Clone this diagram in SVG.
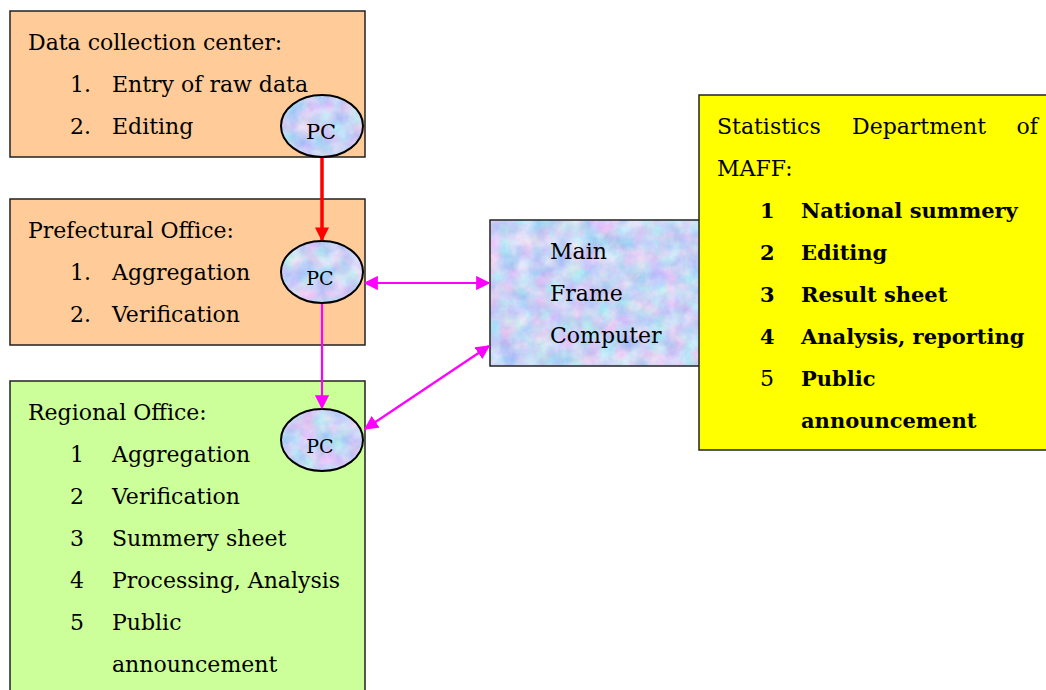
<svg xmlns="http://www.w3.org/2000/svg" width="1046" height="690" viewBox="0 0 1046 690">
  <style>
    .box { stroke: #222; stroke-width: 1.5; }
    .orange { fill: #FFCC99; }
    .green { fill: #CCFF99; }
    .yellow { fill: #FFFF00; }
    .t { font-family: "DejaVu Serif", "Liberation Serif", serif; font-size: 22px; fill: #000; }
    .b { font-weight: bold; font-size: 21px; }
    .pc { font-family: "DejaVu Serif", "Liberation Serif", serif; font-size: 19px; fill: #000; text-anchor: middle; }
    .pcshape { stroke: #000; stroke-width: 2; }
    .red { stroke: #FF0000; stroke-width: 3.5; fill: none; }
    .mag { stroke: #FF00FF; stroke-width: 2.2; fill: none; }
  </style>
  <defs>
    <!-- pastel blue/lilac marble texture -->
    <filter id="marble" x="0" y="0" width="100%" height="100%" color-interpolation-filters="sRGB">
      <feTurbulence type="fractalNoise" baseFrequency="0.06" numOctaves="4" seed="11" result="noise"/>
      <feColorMatrix in="noise" type="matrix" values="0.45 0 0 0 0.56  0 0.3 0 0 0.68  0 0 0.1 0 0.91  0 0 0 0 1" result="tint"/>
      <feComposite in="tint" in2="SourceGraphic" operator="in"/>
    </filter>
    <marker id="arrRed" viewBox="0 0 10 10" refX="9" refY="5" markerWidth="4" markerHeight="4" orient="auto-start-reverse" markerUnits="strokeWidth">
      <path d="M0,0 L10,5 L0,10 z" fill="#FF0000"/>
    </marker>
    <marker id="arrMag" viewBox="0 0 10 10" refX="9" refY="5" markerWidth="6.5" markerHeight="6.5" orient="auto-start-reverse" markerUnits="strokeWidth">
      <path d="M0,0 L10,5 L0,10 z" fill="#FF00FF"/>
    </marker>
  </defs>

  <rect width="1046" height="690" fill="#fff"/>

  <!-- Data collection center -->
  <g id="data-collection">
    <rect class="box orange" x="10" y="11" width="355" height="146"/>
    <text class="t" x="28" y="50">Data collection center:</text>
    <text class="t" x="70" y="92">1.</text>
    <text class="t" x="112" y="92">Entry of raw data</text>
    <text class="t" x="70" y="134">2.</text>
    <text class="t" x="112" y="134">Editing</text>
  </g>

  <!-- Prefectural Office -->
  <g id="prefectural">
    <rect class="box orange" x="10" y="199" width="355" height="146"/>
    <text class="t" x="28" y="238">Prefectural Office:</text>
    <text class="t" x="70" y="280">1.</text>
    <text class="t" x="112" y="280">Aggregation</text>
    <text class="t" x="70" y="322">2.</text>
    <text class="t" x="112" y="322">Verification</text>
  </g>

  <!-- Regional Office -->
  <g id="regional">
    <rect class="box green" x="10" y="381" width="355" height="320"/>
    <text class="t" x="28" y="420">Regional Office:</text>
    <text class="t" x="70" y="462">1</text>
    <text class="t" x="112" y="462">Aggregation</text>
    <text class="t" x="70" y="504">2</text>
    <text class="t" x="112" y="504">Verification</text>
    <text class="t" x="70" y="546">3</text>
    <text class="t" x="112" y="546">Summery sheet</text>
    <text class="t" x="70" y="588">4</text>
    <text class="t" x="112" y="588">Processing, Analysis</text>
    <text class="t" x="70" y="630">5</text>
    <text class="t" x="112" y="630">Public</text>
    <text class="t" x="112" y="672">announcement</text>
  </g>

  <!-- Main frame computer -->
  <g id="mainframe">
    <rect x="490" y="220" width="210" height="146" fill="#C4D0F2"/>
    <rect x="490" y="220" width="210" height="146" fill="#fff" filter="url(#marble)"/>
    <rect x="490" y="220" width="210" height="146" fill="none" class="box"/>
    <text class="t" x="550" y="259">Main</text>
    <text class="t" x="550" y="301">Frame</text>
    <text class="t" x="550" y="343">Computer</text>
  </g>

  <!-- Statistics Department of MAFF -->
  <g id="maff">
    <rect class="box yellow" x="699" y="95" width="360" height="355"/>
    <text class="t" x="717" y="134">Statistics</text>
    <text class="t" x="852" y="134">Department</text>
    <text class="t" x="1038" y="134" text-anchor="end">of</text>
    <text class="t" x="717" y="176">MAFF:</text>
    <text class="t b" x="760" y="218">1</text>
    <text class="t b" x="801" y="218">National summery</text>
    <text class="t b" x="760" y="260">2</text>
    <text class="t b" x="801" y="260">Editing</text>
    <text class="t b" x="760" y="302">3</text>
    <text class="t b" x="801" y="302">Result sheet</text>
    <text class="t b" x="760" y="344">4</text>
    <text class="t b" x="801" y="344">Analysis, reporting</text>
    <text class="t" x="760" y="386">5</text>
    <text class="t b" x="801" y="386">Public</text>
    <text class="t b" x="801" y="428">announcement</text>
  </g>

  <!-- PC terminals -->
  <g id="pc1">
    <ellipse cx="322" cy="126" rx="41" ry="31" fill="#C4D0F2"/>
    <ellipse cx="322" cy="126" rx="41" ry="31" fill="#fff" filter="url(#marble)"/>
    <ellipse class="pcshape" cx="322" cy="126" rx="41" ry="31" fill="none"/>
    <text class="pc" x="321" y="139" style="font-size:21px">PC</text>
  </g>
  <g id="pc2">
    <ellipse cx="322" cy="272" rx="41" ry="31" fill="#C4D0F2"/>
    <ellipse cx="322" cy="272" rx="41" ry="31" fill="#fff" filter="url(#marble)"/>
    <ellipse class="pcshape" cx="322" cy="272" rx="41" ry="31" fill="none"/>
    <text class="pc" x="320" y="285">PC</text>
  </g>
  <g id="pc3">
    <ellipse cx="322" cy="440" rx="41" ry="31" fill="#C4D0F2"/>
    <ellipse cx="322" cy="440" rx="41" ry="31" fill="#fff" filter="url(#marble)"/>
    <ellipse class="pcshape" cx="322" cy="440" rx="41" ry="31" fill="none"/>
    <text class="pc" x="320" y="453">PC</text>
  </g>

  <!-- Connectors -->
  <g id="connectors">
    <line class="red" x1="322" y1="158" x2="322" y2="240" marker-end="url(#arrRed)"/>
    <line class="mag" x1="322" y1="304" x2="322" y2="408" marker-end="url(#arrMag)"/>
    <line class="mag" x1="365" y1="283" x2="489" y2="283" marker-start="url(#arrMag)" marker-end="url(#arrMag)"/>
    <line class="mag" x1="365" y1="429" x2="489" y2="346" marker-start="url(#arrMag)" marker-end="url(#arrMag)"/>
  </g>
</svg>
